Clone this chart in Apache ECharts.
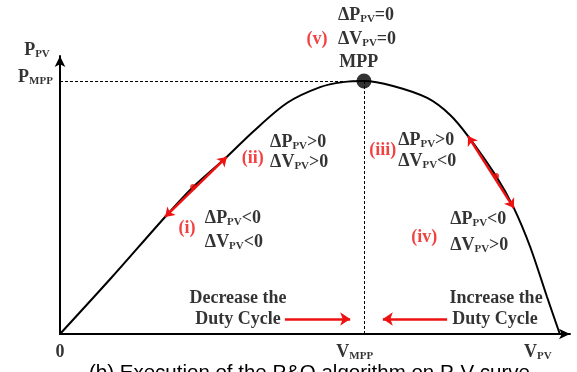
<!DOCTYPE html>
<html>
<head>
<meta charset="utf-8">
<script src="https://cdn.jsdelivr.net/npm/echarts@6/dist/echarts.min.js"></script>
<style>
  html, body { margin: 0; padding: 0; background: #fff; }
  #chart { width: 577px; height: 372px; }
</style>
</head>
<body>
<div id="chart"></div>
<script>
// P-V curve (normalised units, 0..100)
const voltage = [0, 10.2, 20.6, 26.1, 32.7, 37.8, 44.5, 51.0, 55.5, 59.6, 65.3, 72.0, 76.5, 80.0, 85.5, 89.0, 92.2, 95.5, 98.0]
const power   = [0, 20.5, 42.1, 52.9, 63.7, 72.7, 83.1, 88.8, 90.6, 91.0, 89.2, 84.9, 78.8, 71.2, 56.8, 45.3, 31.3, 13.3, 0]
const mpp = [59.6, 91.0]

// red double arrows along the curve: [from, to, middle dot]
const perturbArrows = [
  [[20.6, 42.1], [32.7, 63.7], [26.1, 52.9]],
  [[80.0, 71.2], [89.0, 45.3], [85.5, 56.8]]
]
// duty cycle arrows under the curve
const dutyArrows = [
  [[44.1, 5.4], [56.9, 5.4]],
  [[75.9, 5.4], [63.3, 5.4]]
]

// text notes: [x, y, text, align, red?]
const notes = [
  [-2.0, 102.2, 'P{s|PV}', 'right', false],
  [-1.4, 92.4, 'P{s|MPP}', 'right', false],
  [0, -6.5, '0', 'center', false],
  [57.8, -6.5, 'V{s|MPP}', 'center', false],
  [93.7, -6.5, 'V{s|PV}', 'center', false],
  [60.0, 114.7, 'ΔP{s|PV}=0', 'center', false],
  [50.4, 106.1, '(v)', 'center', true],
  [60.2, 106.1, 'ΔV{s|PV}=0', 'center', false],
  [58.6, 97.8, 'MPP', 'center', false],
  [37.8, 63.3, '(ii)', 'center', true],
  [41.2, 69.1, 'ΔP{s|PV}>0', 'left', false],
  [41.2, 61.9, 'ΔV{s|PV}>0', 'left', false],
  [24.9, 38.1, '(i)', 'center', true],
  [28.4, 41.7, 'ΔP{s|PV}<0', 'left', false],
  [28.4, 33.1, 'ΔV{s|PV}<0', 'left', false],
  [63.3, 66.2, '(iii)', 'center', true],
  [66.3, 69.8, 'ΔP{s|PV}>0', 'left', false],
  [66.3, 62.2, 'ΔV{s|PV}<0', 'left', false],
  [71.4, 34.9, '(iv)', 'center', true],
  [76.5, 41.4, 'ΔP{s|PV}<0', 'left', false],
  [76.5, 32.0, 'ΔV{s|PV}>0', 'left', false],
  [34.9, 12.9, 'Decrease the', 'center', false],
  [34.9, 5.4, 'Duty Cycle', 'center', false],
  [85.5, 12.9, 'Increase the', 'center', false],
  [85.3, 5.4, 'Duty Cycle', 'center', false]
]

const caption = '(b) Execution of the P&O algorithm on P-V curve'
const serif = 'Liberation Serif'
const red = '#ee1111'

const chart = echarts.init(document.getElementById('chart'))

const axisCommon = {
  type: 'value',
  min: 0,
  max: 100,
  axisLine: { show: true, symbol: ['none', 'arrow'], symbolSize: [8, 11], lineStyle: { color: '#000', width: 2 } },
  axisTick: { show: false },
  axisLabel: { show: false },
  splitLine: { show: false }
}

const option = {
  animation: false,
  backgroundColor: '#fff',
  title: {
    text: caption,
    left: 84,
    top: 358,
    textStyle: { fontFamily: 'Liberation Sans', fontSize: 20.5, fontWeight: 'normal', color: '#000' }
  },
  grid: { left: 60, right: 7, top: 56, bottom: 38 },
  xAxis: axisCommon,
  yAxis: axisCommon,
  series: [
    {
      // P-V curve
      type: 'line',
      data: voltage.map((v, i) => [v, power[i]]),
      smooth: 0.3,
      showSymbol: false,
      lineStyle: { color: '#000', width: 2 },
      markLine: {
        silent: true,
        symbol: 'none',
        label: { show: false },
        lineStyle: { color: '#000', width: 1, type: [3, 2] },
        data: [
          [{ coord: [0, mpp[1]] }, { coord: mpp }],
          [{ coord: mpp }, { coord: [mpp[0], 0] }]
        ]
      },
      z: 2
    },
    {
      // MPP point
      type: 'scatter',
      data: [mpp],
      symbolSize: 15,
      itemStyle: { color: '#000' },
      z: 4
    },
    {
      type: 'lines',
      coordinateSystem: 'cartesian2d',
      symbol: ['arrow', 'arrow'],
      symbolSize: 9,
      lineStyle: { color: red, width: 2.5, opacity: 1 },
      data: perturbArrows.map(a => ({ coords: [a[0], a[1]] })),
      z: 3
    },
    {
      type: 'lines',
      coordinateSystem: 'cartesian2d',
      symbol: ['none', 'arrow'],
      symbolSize: 10,
      lineStyle: { color: red, width: 2.5, opacity: 1 },
      data: dutyArrows.map(a => ({ coords: a })),
      z: 3
    },
    {
      type: 'scatter',
      data: perturbArrows.map(a => a[2]),
      symbolSize: 6,
      itemStyle: { color: red },
      z: 4
    },
    {
      // text notes
      type: 'scatter',
      clip: false,
      symbolSize: 0,
      silent: true,
      data: notes.map(n => ({
        value: [n[0], n[1]],
        name: n[2],
        label: { align: n[3], color: n[4] ? red : '#000' }
      })),
      label: {
        show: true,
        position: 'inside',
        verticalAlign: 'middle',
        formatter: p => p.name,
        fontFamily: serif,
        fontWeight: 'bold',
        fontSize: 18,
        lineHeight: 20,
        rich: {
          s: { fontFamily: serif, fontWeight: 'bold', fontSize: 11, color: '#000', verticalAlign: 'bottom', lineHeight: 12 }
        }
      },
      z: 5
    }
  ]
}

chart.setOption(option)
</script>
</body>
</html>
